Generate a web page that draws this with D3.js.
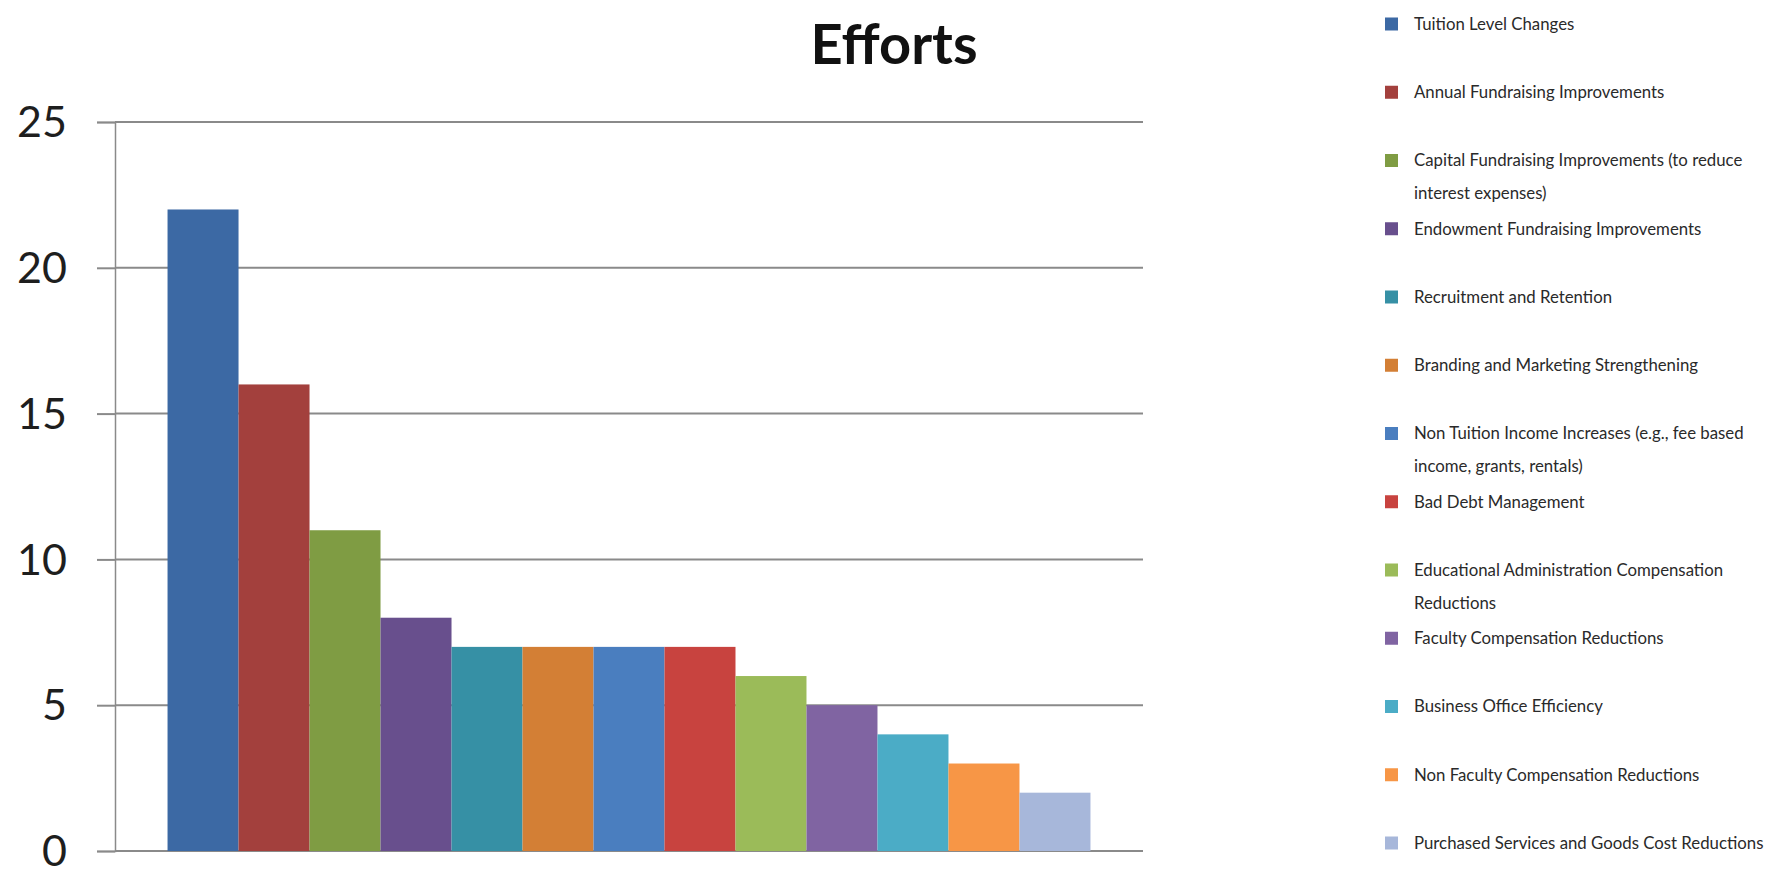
<!DOCTYPE html>
<html>
<head>
<meta charset="utf-8">
<script src="https://cdn.jsdelivr.net/npm/d3@7"></script>
<style>
  body { margin: 0; background: #ffffff; }
  svg { display: block; font-family: Lato, "Open Sans", sans-serif; }
</style>
</head>
<body>
<div id="chart"></div>
<script>

// Chart data
let titleText = "Efforts";

let categories = [
    "Tuition Level Changes",
    "Annual Fundraising Improvements",
    "Capital Fundraising Improvements (to reduce interest expenses)",
    "Endowment Fundraising Improvements",
    "Recruitment and Retention",
    "Branding and Marketing Strengthening",
    "Non Tuition Income Increases (e.g., fee based income, grants, rentals)",
    "Bad Debt Management",
    "Educational Administration Compensation Reductions",
    "Faculty Compensation Reductions",
    "Business Office Efficiency",
    "Non Faculty Compensation Reductions",
    "Purchased Services and Goods Cost Reductions"
];

let values = [22, 16, 11, 8, 7, 7, 7, 7, 6, 5, 4, 3, 2];

let barColors = ["#3c69a4", "#a3403d", "#7f9c43", "#684f8d", "#3690a5", "#d37f35",
    "#4a7ebf", "#c8433f", "#9bbb59", "#8064a2", "#4bacc6", "#f79646", "#a7b7da"];

let yTicks = [0, 5, 10, 15, 20, 25];

//*************************************************************************************
//SETUP

var width = 1770;
var height = 870;

var plotLeft = 115;
var plotRight = 1143;
var plotTop = 122;
var plotBottom = 851;

var svg = d3.select("#chart")
    .append("svg")
    .attr("width", width)
    .attr("height", height);

svg.append("rect")
    .attr("width", width)
    .attr("height", height)
    .attr("fill", "#ffffff");

// Scales
var x = d3.scaleBand()
    .domain(categories)
    .range([plotLeft, plotRight])
    .paddingInner(0)
    .paddingOuter(0.74);

var y = d3.scaleLinear()
    .domain([0, 25])
    .range([plotBottom, plotTop]);

//*************************************************************************************
//GRIDLINES, AXIS AND BARS

svg.append("g")
    .selectAll("line")
    .data(yTicks)
    .enter()
    .append("line")
    .attr("x1", plotLeft)
    .attr("x2", plotRight)
    .attr("y1", d => y(d))
    .attr("y2", d => y(d))
    .attr("stroke", "#8a8a8a")
    .attr("stroke-width", 2);

var yAxis = svg.append("g")
    .attr("transform", "translate(" + plotLeft + ",0)")
    .call(d3.axisLeft(y).tickValues(yTicks).tickSize(18).tickPadding(30))
    .attr("font-family", null)
    .attr("font-size", null);

yAxis.select(".domain")
    .attr("stroke", "#8a8a8a")
    .attr("stroke-width", 1.5);

yAxis.selectAll(".tick line")
    .attr("stroke", "#8a8a8a")
    .attr("stroke-width", 2);

yAxis.selectAll(".tick text")
    .attr("fill", "#1e1e1e")
    .attr("dy", "0.34em")
    .style("font-size", "43px");

svg.append("g")
    .selectAll("rect")
    .data(values)
    .enter()
    .append("rect")
    .attr("x", (d, i) => x(categories[i]))
    .attr("width", x.bandwidth())
    .attr("y", d => y(d))
    .attr("height", d => y(0) - y(d))
    .attr("fill", (d, i) => barColors[i]);

// Title (only the last line is in view)
svg.append("text")
    .attr("x", 894)
    .attr("y", 64)
    .attr("text-anchor", "middle")
    .attr("fill", "#111111")
    .style("font-size", "56px")
    .style("font-weight", "bold")
    .text(titleText);

//*************************************************************************************
//LEGEND

var legendX = 1385;
var legendTop = 24;
var legendStep = 68.25;
var lineHeight = 33;
var maxTextWidth = 352;

var legend = svg.append("g")
    .selectAll("g")
    .data(categories)
    .enter()
    .append("g")
    .attr("transform", (d, i) => "translate(" + legendX + "," + (legendTop + i * legendStep) + ")");

legend.append("rect")
    .attr("x", 0)
    .attr("y", -6.5)
    .attr("width", 13)
    .attr("height", 13)
    .attr("fill", (d, i) => barColors[i]);

legend.append("text")
    .attr("x", 29)
    .attr("y", 0)
    .attr("fill", "#2a2a2a")
    .style("font-size", "16.8px")
    .each(function (d) {
        // wrap long names onto more lines
        let textEl = d3.select(this);
        let words = d.split(" ");
        let line = [];
        let lineNo = 0;
        let tspan = textEl.append("tspan").attr("x", 29).attr("dy", "0.35em");
        words.forEach(word => {
            line.push(word);
            tspan.text(line.join(" "));
            if (tspan.node().getComputedTextLength() > maxTextWidth && line.length > 1) {
                line.pop();
                tspan.text(line.join(" "));
                line = [word];
                lineNo++;
                tspan = textEl.append("tspan")
                    .attr("x", 29)
                    .attr("y", lineNo * lineHeight)
                    .attr("dy", "0.35em")
                    .text(word);
            }
        });
    });

</script>
</body>
</html>
